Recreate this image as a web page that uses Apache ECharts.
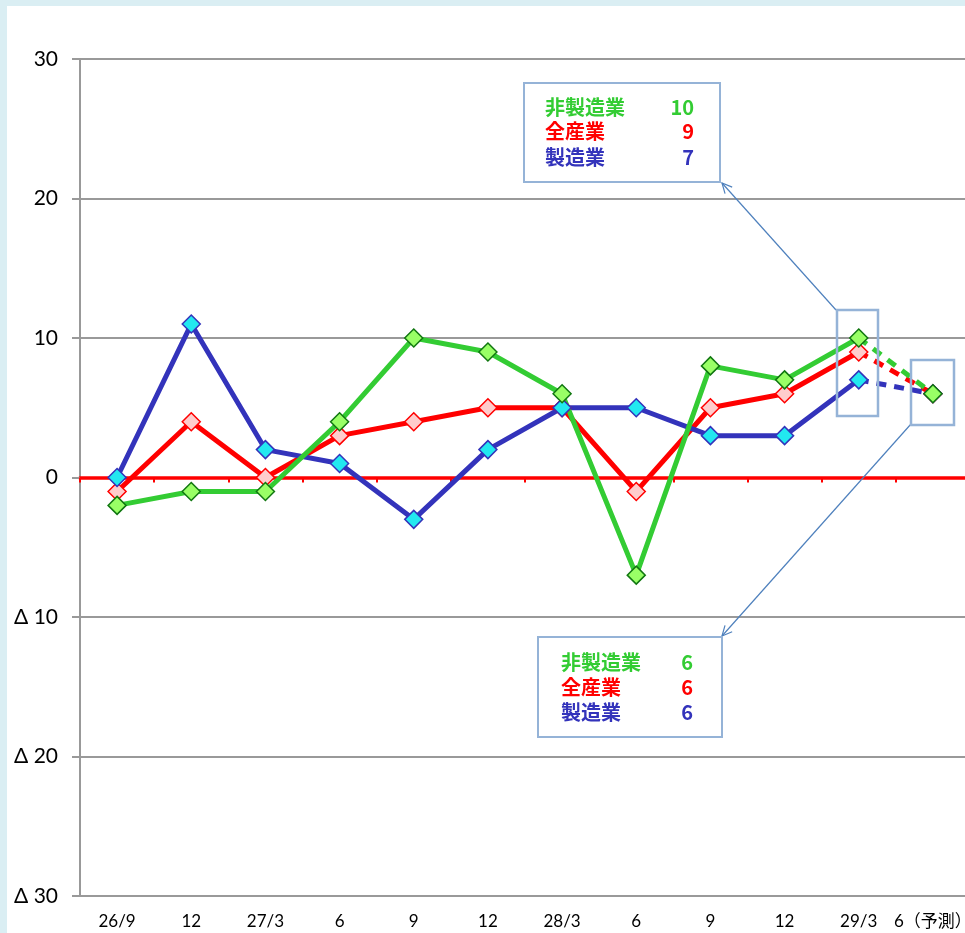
<!DOCTYPE html>
<html><head><meta charset="utf-8">
<script src="https://cdn.jsdelivr.net/npm/echarts@6/dist/echarts.min.js"></script>
<style>
html,body{margin:0;padding:0;background:#daeef3;overflow:hidden;}
#bg{position:absolute;left:7px;top:6px;width:958px;height:927px;background:#fff;}
#main{position:absolute;left:0;top:0;width:965px;height:933px;}
</style></head><body><div id="bg"></div><div id="main"></div>
<script>
const categories = ['26/9','12','27/3','6','9','12','28/3','6','9','12','29/3','6（予測）'];
const nonManufacturing = [-2,-1,-1,4,10,9,6,-7,8,7,10,6];
const allIndustries    = [-1,4,0,3,4,5,5,-1,5,6,9,6];
const manufacturing    = [0,11,2,1,-3,2,5,5,3,3,7,6];
const yMin = -30, yMax = 30, yStep = 10;
const box1Rows = [['非製造業','10'],['全産業','9'],['製造業','7']];
const box2Rows = [['非製造業','6'],['全産業','6'],['製造業','6']];

const GREEN = '#33cc33', RED = '#ff0000', BLUE = '#3333bb';
const styles = {
  green: {line: GREEN, fill: '#99ff66', border: '#117711'},
  red:   {line: RED,   fill: '#ffcccc', border: '#ff0000'},
  blue:  {line: BLUE,  fill: '#22e8f0', border: '#3333bb'}
};
const lastActual = categories.length - 2;

function solidSeries(name, arr, st) {
  return {
    name, type: 'line', data: arr.slice(0, lastActual + 1),
    symbol: 'diamond', symbolSize: [18, 18], showSymbol: true,
    lineStyle: {color: st.line, width: 5},
    itemStyle: {color: st.fill, borderColor: st.border, borderWidth: 1.5},
    emphasis: {disabled: true}, animation: false
  };
}
function dashSeries(name, arr, st) {
  return {
    name: name + '予測', type: 'line',
    data: arr.map((v, i) => i < lastActual ? null : (i === lastActual ? {value: v, symbol: 'none'} : v)),
    symbol: 'diamond', symbolSize: [18, 18], showSymbol: true,
    lineStyle: {color: st.line, width: 5, type: [10, 8]},
    itemStyle: {color: st.fill, borderColor: st.border, borderWidth: 1.5},
    emphasis: {disabled: true}, animation: false
  };
}

function arrow(x1, y1, x2, y2) {
  const dx = x1 - x2, dy = y1 - y2, L = Math.hypot(dx, dy);
  const ux = dx / L, uy = dy / L, a = 0.45, len = 11;
  const w1 = [x2 + len * (ux * Math.cos(a) - uy * Math.sin(a)), y2 + len * (ux * Math.sin(a) + uy * Math.cos(a))];
  const w2 = [x2 + len * (ux * Math.cos(-a) - uy * Math.sin(-a)), y2 + len * (ux * Math.sin(-a) + uy * Math.cos(-a))];
  const st = {stroke: '#4f81bd', lineWidth: 1.2, fill: null};
  return [
    {type: 'line', shape: {x1, y1, x2, y2}, style: st, z: 50},
    {type: 'polyline', shape: {points: [w1, [x2, y2], w2]}, style: st, z: 50}
  ];
}
const rowColors = [GREEN, RED, BLUE];
function box(x, y, w, h, rows, textX, valRight, rowYs) {
  const els = [{type: 'rect', shape: {x, y, width: w, height: h},
    style: {fill: '#fff', stroke: '#95b3d7', lineWidth: 2}, z: 60}];
  rows.forEach((r, i) => {
    els.push({type: 'text', x: textX, y: rowYs[i], z: 61,
      style: {text: r[0], fill: rowColors[i], font: 'bold 20px "Noto Sans CJK JP"', textVerticalAlign: 'middle', textAlign: 'left'}});
    els.push({type: 'text', x: valRight, y: rowYs[i], z: 61,
      style: {text: r[1], fill: rowColors[i], font: 'bold 20px "Noto Sans CJK JP"', textVerticalAlign: 'middle', textAlign: 'right'}});
  });
  return els;
}
function hiRect(x, y, w, h) {
  return {type: 'rect', shape: {x, y, width: w, height: h},
    style: {fill: null, stroke: '#95b3d7', lineWidth: 2.5}, z: 55};
}

const chart = echarts.init(document.getElementById('main'), null, {renderer: 'canvas'});
chart.setOption({
  backgroundColor: 'transparent',
  animation: false,
  grid: {left: 80, width: 890, top: 59, bottom: 37, containLabel: false, outerBoundsMode: 'none'},
  xAxis: [
    {type: 'category', data: categories, position: 'bottom', boundaryGap: true,
     axisLine: {onZero: true, lineStyle: {color: RED, width: 3.5}},
     axisTick: {show: true, length: 5, lineStyle: {color: RED, width: 2}},
     axisLabel: {show: false}, splitLine: {show: false}},
    {type: 'category', data: categories, position: 'bottom', boundaryGap: true,
     axisLine: {onZero: false, lineStyle: {color: '#999999', width: 2}},
     axisTick: {show: false},
     axisLabel: {show: true, color: '#000', fontSize: 17, fontFamily: 'Lato, "Noto Sans CJK JP"', margin: 17, interval: 0},
     splitLine: {show: false}}
  ],
  yAxis: {
    type: 'value', min: yMin, max: yMax, interval: yStep,
    axisLine: {show: true, lineStyle: {color: '#999999', width: 2}},
    axisTick: {show: true, length: 8, lineStyle: {color: '#999999', width: 2}},
    splitLine: {show: true, lineStyle: {color: '#999999', width: 2}},
    axisLabel: {color: '#000', fontSize: 21, fontFamily: 'Lato', margin: 22,
      formatter: v => v < 0 ? 'Δ ' + (-v) : String(v)}
  },
  series: [
    dashSeries('全産業', allIndustries, styles.red),
    dashSeries('製造業', manufacturing, styles.blue),
    dashSeries('非製造業', nonManufacturing, styles.green),
    solidSeries('全産業', allIndustries, styles.red),
    solidSeries('製造業', manufacturing, styles.blue),
    solidSeries('非製造業', nonManufacturing, styles.green)
  ],
  graphic: [
    hiRect(837, 310, 41, 106),
    hiRect(911, 360, 43, 65),
    ...arrow(836, 310, 722, 183),
    ...arrow(911, 424, 722, 636),
    ...box(524, 83, 196, 99, box1Rows, 545, 694, [107, 131, 157]),
    ...box(538, 637, 184, 100, box2Rows, 561, 693, [662, 687, 712])
  ]
});
</script></body></html>
